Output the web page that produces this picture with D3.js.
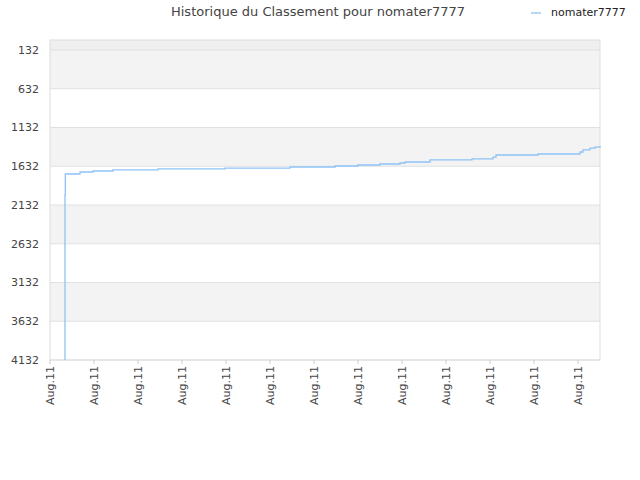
<!DOCTYPE html>
<html><head><meta charset="utf-8">
<script src="https://cdn.jsdelivr.net/npm/d3@7"></script>
<style>body{margin:0;background:#fff}text{font-family:"DejaVu Sans",sans-serif}</style>
</head><body><svg id="c" width="640" height="480"></svg>
<script>
const title = "Historique du Classement pour nomater7777";
const seriesName = "nomater7777";
const yTicks = [132,632,1132,1632,2132,2632,3132,3632,4132];
const xTickLabels = ["Aug.11","Aug.11","Aug.11","Aug.11","Aug.11","Aug.11","Aug.11","Aug.11","Aug.11","Aug.11","Aug.11","Aug.11","Aug.11"];
// time index (0..550) and rank values
const days  = [15,15,15.3,30,43,63,108,175,240,285,308,330,350,355,380,422,443,446,488,530,533,540,545,550];
const ranks = [4132,2000,1732,1706,1693,1680,1667,1655,1642,1629,1616,1603,1590,1577,1551,1538,1513,1487,1474,1448,1422,1397,1384,1371];

const svg = d3.select("#c");
const L=50,R=600,T=40,B=360;
const x = d3.scaleLinear().domain([0,550]).range([L,R]);
const y = d3.scaleLinear().domain([3,4132]).range([T,B]);

const edges=[3].concat(yTicks);
for(let i=0;i<edges.length-1;i++){
  svg.append("rect").attr("x",L).attr("width",R-L).attr("y",y(edges[i])).attr("height",y(edges[i+1])-y(edges[i]))
   .attr("fill", i===0?"#efefef":(i%2===1?"#f3f3f3":"#fff"));
}
yTicks.forEach(t=>svg.append("line").attr("x1",L).attr("x2",R).attr("y1",y(t)).attr("y2",y(t)).attr("stroke","#e0e0e0"));
svg.append("rect").attr("x",L).attr("y",T).attr("width",R-L).attr("height",B-T).attr("fill","none").attr("stroke","#ddd");

yTicks.forEach(t=>svg.append("text").attr("x",L-11).attr("y",y(t)+4).attr("text-anchor","end").attr("font-size",11).attr("fill","#444").text(t));
const xs = d3.scaleLinear().domain([0,12]).range([L,578]);
xTickLabels.forEach((s,i)=>{
  svg.append("line").attr("x1",xs(i)).attr("x2",xs(i)).attr("y1",B).attr("y2",B+4).attr("stroke","#ccc");
  svg.append("text").attr("transform",`translate(${xs(i)+4},${B+6}) rotate(-90)`).attr("text-anchor","end").attr("font-size",11).attr("fill","#444").text(s);
});

const line=d3.line().x((d,i)=>x(days[i])).y(d=>y(d)).curve(d3.curveStepAfter);
svg.append("path").attr("d",line(ranks)).attr("fill","none").attr("stroke","#8ec2f5").attr("stroke-width",1.3);

svg.append("text").attr("x",318).attr("y",16).attr("text-anchor","middle").attr("font-size",13).attr("fill","#444").text(title);
svg.append("line").attr("x1",531).attr("x2",541).attr("y1",13).attr("y2",13).attr("stroke","#8ec2f5").attr("stroke-width",1.3);
svg.append("text").attr("x",551).attr("y",16).attr("font-size",11).attr("fill","#222").text(seriesName);
</script></body></html>
